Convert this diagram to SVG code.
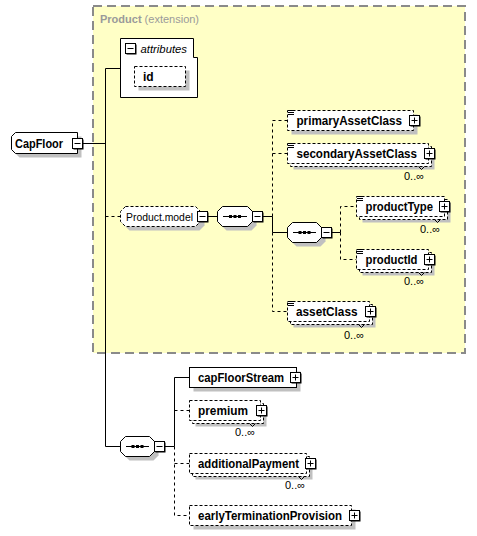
<svg xmlns="http://www.w3.org/2000/svg" xmlns:xlink="http://www.w3.org/1999/xlink" width="477" height="536" viewBox="0 0 477 536">
<style>
.box{fill:#fff;stroke:#000;stroke-width:1}
.opt{fill:#fff;stroke:#000;stroke-width:1;stroke-dasharray:3,2}
.sh{fill:#c0c0c0}
.ln{fill:none;stroke:#000;stroke-width:1}
.dl{fill:none;stroke:#000;stroke-width:1;stroke-dasharray:3,3}
.nm{font-family:"Liberation Sans",Arial,sans-serif;font-size:12px;font-weight:bold;fill:#000}
.rg{font-family:"Liberation Sans",Arial,sans-serif;font-size:11px;fill:#000}
.oc{font-family:"Liberation Sans",Arial,sans-serif;font-size:11px;fill:#000}
.ext{font-family:"Liberation Sans",Arial,sans-serif;font-size:11px;fill:#9a9a9a}
</style>
<defs>
<g id="plus"><rect x="1.5" y="1.5" width="10" height="10" fill="#000"/><rect x="0.5" y="0.5" width="10" height="10" fill="#fff" stroke="#000"/><path d="M2.5,5.5H8.5M5.5,2.5V8.5" stroke="#000" fill="none"/></g>
<g id="minus"><rect x="1.5" y="1.5" width="10" height="10" fill="#000"/><rect x="0.5" y="0.5" width="10" height="10" fill="#fff" stroke="#000"/><path d="M2.5,5.5H8.5" stroke="#000" fill="none"/></g>
<g id="lines"><rect x="0" y="0" width="6" height="5" fill="#fff"/><path d="M0,0.5H6M0,2.5H6M0,4.5H6" stroke="#000" stroke-width="1"/></g>
<g id="seqdots"><rect x="-6" y="-1.5" width="3" height="3" fill="#000"/><rect x="-1.5" y="-1.5" width="3" height="3" fill="#000"/><rect x="3" y="-1.5" width="3" height="3" fill="#000"/></g>
</defs>

<g id="product-extension">
<rect x="93" y="6" width="372" height="347" fill="#ffffc6" stroke="#8a8a8a" stroke-width="2" stroke-dasharray="9,5"/>
<text x="100" y="23" class="ext"><tspan font-weight="bold">Product</tspan> (extension)</text>
</g>

<g id="connectors">
<path class="ln" d="M83,143.5H105.5M105.5,68.5V446.5M105.5,68.5H120.5M105.5,446.5H120.5"/>
<path class="dl" d="M105.5,216.5H120.5"/>
<path class="ln" d="M208,216.5H217.5M263,216.5H272.5M272.5,216.5V232.5H287.5M332,232.5H340.5"/>
<path class="dl" d="M272.5,216.5V120.5H287.5M272.5,153.5H287.5M272.5,232.5V311.5H287.5"/>
<path class="dl" d="M340.5,232.5V206.5H356.5M340.5,232.5V259.5H356.5"/>
<path class="ln" d="M165,446.5H174.5M174.5,446.5V377.5H189.5"/>
<path class="dl" d="M174.5,446.5V515.5H189.5M174.5,410.5H189.5M174.5,463.5H189.5"/>
</g>

<g id="CapFloor">
<path class="sh" d="M19.5,136.5H81.5V157.5H19.5L15.5,153.5V140.5Z"/>
<path class="box" d="M15.5,132.5H77.5V153.5H15.5L11.5,149.5V136.5Z"/>
<text x="15" y="147.5" class="nm" textLength="48" lengthAdjust="spacingAndGlyphs">CapFloor</text>
<use xlink:href="#minus" x="72" y="138"/>
</g>

<g id="attributes">
<path class="box" d="M120.5,38.5H193.5V57.5H197.5V97.5H120.5Z"/>
<use xlink:href="#minus" x="125" y="43"/>
<text x="140.5" y="52.5" class="rg" font-style="italic" textLength="46.5" lengthAdjust="spacingAndGlyphs">attributes</text>
</g>

<g id="id">
<rect class="sh" x="138.5" y="70.5" width="51" height="20"/>
<rect class="opt" x="134.5" y="66.5" width="51" height="20"/>
<text x="143" y="81" class="nm">id</text>
</g>

<g id="Product.model">
<path class="sh" d="M129.5,210.5H199.5L204.5,215.5V225.5L199.5,230.5H129.5L124.5,225.5V215.5Z"/>
<path class="opt" d="M125.5,206.5H195.5L200.5,211.5V221.5L195.5,226.5H125.5L120.5,221.5V211.5Z"/>
<text x="126" y="220.5" class="rg" textLength="67" lengthAdjust="spacingAndGlyphs">Product.model</text>
<use xlink:href="#minus" x="197" y="211"/>
</g>

<g id="sequence1">
<path class="sh" d="M226.5,210.5H251.5L256.5,215.5V225.5L251.5,230.5H226.5L221.5,225.5V215.5Z"/>
<path class="box" d="M222.5,206.5H247.5L252.5,211.5V221.5L247.5,226.5H222.5L217.5,221.5V211.5Z"/>
<path class="ln" d="M223,216.5H247"/>
<use xlink:href="#seqdots" x="235" y="216.5"/>
<use xlink:href="#minus" x="252" y="211"/>
</g>

<g id="primaryAssetClass">
<rect class="sh" x="291.5" y="114.5" width="126" height="20"/>
<rect class="opt" x="287.5" y="110.5" width="126" height="20"/>
<use xlink:href="#lines" x="288" y="110"/>
<text x="296.5" y="124.5" class="nm" textLength="105.5" lengthAdjust="spacingAndGlyphs">primaryAssetClass</text>
<use xlink:href="#plus" x="409" y="115"/>
</g>

<g id="secondaryAssetClass">
<rect class="sh" x="293.5" y="149.5" width="141" height="20"/>
<rect class="opt" x="290.5" y="146.5" width="141" height="20"/>
<rect class="opt" x="287.5" y="143.5" width="141" height="20"/>
<use xlink:href="#lines" x="288" y="143"/>
<text x="296.5" y="157.5" class="nm" textLength="120.5" lengthAdjust="spacingAndGlyphs">secondaryAssetClass</text>
<use xlink:href="#plus" x="424" y="148"/>
<path class="ln" d="M418.5,166.5L421.5,169.5L424.5,166.5" stroke="#888"/>
<text x="404" y="180" class="oc">0..∞</text>
</g>

<g id="sequence2">
<path class="sh" d="M296.5,226.5H320.5L325.5,231.5V241.5L320.5,246.5H296.5L291.5,241.5V231.5Z"/>
<path class="box" d="M292.5,222.5H316.5L321.5,227.5V237.5L316.5,242.5H292.5L287.5,237.5V227.5Z"/>
<path class="ln" d="M293,232.5H316"/>
<use xlink:href="#seqdots" x="304.5" y="232.5"/>
<use xlink:href="#minus" x="321" y="227"/>
</g>

<g id="productType">
<rect class="sh" x="362.5" y="202.5" width="88" height="20"/>
<rect class="opt" x="359.5" y="199.5" width="88" height="20"/>
<rect class="opt" x="356.5" y="196.5" width="88" height="20"/>
<use xlink:href="#lines" x="357" y="196"/>
<text x="365.5" y="210.5" class="nm" textLength="67.5" lengthAdjust="spacingAndGlyphs">productType</text>
<use xlink:href="#plus" x="439" y="201"/>
<path class="ln" d="M434.5,219.5L437.5,222.5L440.5,219.5" stroke="#888"/>
<text x="420" y="233" class="oc">0..∞</text>
</g>

<g id="productId">
<rect class="sh" x="362.5" y="255.5" width="72" height="20"/>
<rect class="opt" x="359.5" y="252.5" width="72" height="20"/>
<rect class="opt" x="356.5" y="249.5" width="72" height="20"/>
<use xlink:href="#lines" x="357" y="249"/>
<text x="365.5" y="263.5" class="nm" textLength="52" lengthAdjust="spacingAndGlyphs">productId</text>
<use xlink:href="#plus" x="424" y="254"/>
<path class="ln" d="M418.5,272.5L421.5,275.5L424.5,272.5" stroke="#888"/>
<text x="404" y="285" class="oc">0..∞</text>
</g>

<g id="assetClass">
<rect class="sh" x="293.5" y="307.5" width="82" height="20"/>
<rect class="opt" x="290.5" y="304.5" width="82" height="20"/>
<rect class="opt" x="287.5" y="301.5" width="82" height="20"/>
<use xlink:href="#lines" x="288" y="301"/>
<text x="296" y="315.5" class="nm" textLength="61.5" lengthAdjust="spacingAndGlyphs">assetClass</text>
<use xlink:href="#plus" x="365" y="306"/>
<path class="ln" d="M358.5,324.5L361.5,327.5L364.5,324.5" stroke="#888"/>
<text x="344" y="339" class="oc">0..∞</text>
</g>

<g id="sequence3">
<path class="sh" d="M129.5,440.5H153.5L158.5,445.5V455.5L153.5,460.5H129.5L124.5,455.5V445.5Z"/>
<path class="box" d="M125.5,436.5H149.5L154.5,441.5V451.5L149.5,456.5H125.5L120.5,451.5V441.5Z"/>
<path class="ln" d="M126,446.5H149"/>
<use xlink:href="#seqdots" x="137.5" y="446.5"/>
<use xlink:href="#minus" x="154" y="441"/>
</g>

<g id="capFloorStream">
<rect class="sh" x="193.5" y="371.5" width="107" height="20"/>
<rect class="box" x="189.5" y="367.5" width="107" height="20"/>
<text x="198" y="381.5" class="nm" textLength="86" lengthAdjust="spacingAndGlyphs">capFloorStream</text>
<use xlink:href="#plus" x="290" y="372"/>
</g>

<g id="premium">
<rect class="sh" x="195.5" y="406.5" width="71" height="20"/>
<rect class="opt" x="192.5" y="403.5" width="71" height="20"/>
<rect class="opt" x="189.5" y="400.5" width="71" height="20"/>
<text x="198" y="414.5" class="nm" textLength="50" lengthAdjust="spacingAndGlyphs">premium</text>
<use xlink:href="#plus" x="256" y="405"/>
<path class="ln" d="M249.5,423.5L252.5,426.5L255.5,423.5" stroke="#888"/>
<text x="235" y="436" class="oc">0..∞</text>
</g>

<g id="additionalPayment">
<rect class="sh" x="195.5" y="459.5" width="117" height="20"/>
<rect class="opt" x="192.5" y="456.5" width="117" height="20"/>
<rect class="opt" x="189.5" y="453.5" width="117" height="20"/>
<text x="198" y="467.5" class="nm" textLength="101" lengthAdjust="spacingAndGlyphs">additionalPayment</text>
<use xlink:href="#plus" x="305" y="458"/>
<path class="ln" d="M298.5,476.5L301.5,479.5L304.5,476.5" stroke="#888"/>
<text x="285" y="489" class="oc">0..∞</text>
</g>

<g id="earlyTerminationProvision">
<rect class="sh" x="193.5" y="509.5" width="162" height="20"/>
<rect class="opt" x="189.5" y="505.5" width="162" height="20"/>
<text x="198" y="519.5" class="nm" textLength="144" lengthAdjust="spacingAndGlyphs">earlyTerminationProvision</text>
<use xlink:href="#plus" x="349" y="510"/>
</g>
</svg>
